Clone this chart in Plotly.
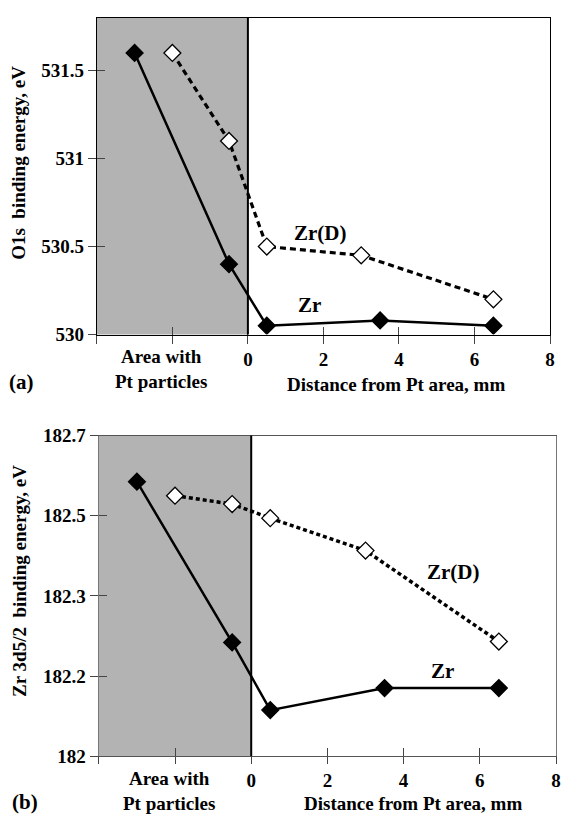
import plotly.graph_objects as go

# ---------------- data ----------------
pt_area = [-4, 0]

x_zr_a = [-3, -0.5, 0.5, 3.5, 6.5]
y_zr_a = [531.6, 530.4, 530.05, 530.08, 530.05]
x_zrd_a = [-2, -0.5, 0.5, 3, 6.5]
y_zrd_a = [531.6, 531.1, 530.5, 530.45, 530.2]

x_zr_b = [-3, -0.5, 0.5, 3.5, 6.5]
y_zr_b = [182.685, 182.284, 182.115, 182.17, 182.17]
x_zrd_b = [-2, -0.5, 0.5, 3, 6.5]
y_zrd_b = [182.65, 182.629, 182.594, 182.513, 182.286]

x_tickvals = [-4, -2, 0, 2, 4, 6, 8]
x_ticktext = ["", "", "0", "2", "4", "6", "8"]
ya_tickvals = [530, 530.5, 531, 531.5]
ya_ticktext = ["530", "530.5", "531", "531.5"]
yb_tickvals = [182.0, 182.2, 182.4, 182.6, 182.8]
yb_ticktext = ["182", "182.2", "182.3", "182.5", "182.7"]

FONT = "Times New Roman"
W, H = 561, 825
GREY = "#b3b3b3"

def bold(labels):
    return [f"<b>{t}</b>" if t else "" for t in labels]

fig = go.Figure()

def add_series(xs, ys, xa, ya, filled, dash, width):
    fig.add_trace(go.Scatter(
        x=xs, y=ys, xaxis=xa, yaxis=ya, mode="lines+markers",
        line=dict(color="black", width=width, dash=dash),
        marker=dict(symbol="diamond", size=13,
                    color="black" if filled else "white",
                    line=dict(color="black", width=1.3)),
        showlegend=False, hoverinfo="skip"))

add_series(x_zr_a, y_zr_a, "x", "y", True, "solid", 2.5)
add_series(x_zrd_a, y_zrd_a, "x", "y", False, "6px,4px", 3.2)
add_series(x_zr_b, y_zr_b, "x2", "y2", True, "solid", 2.5)
add_series(x_zrd_b, y_zrd_b, "x2", "y2", False, "4px,3px", 3.5)

# invisible traces carrying the overlay axes (inside half of the crossing ticks)
fig.add_trace(go.Scatter(x=x_zr_a, y=y_zr_a, xaxis="x3", yaxis="y3", mode="none",
                         showlegend=False, hoverinfo="skip"))
fig.add_trace(go.Scatter(x=x_zr_b, y=y_zr_b, xaxis="x4", yaxis="y4", mode="none",
                         showlegend=False, hoverinfo="skip"))

tickfont = dict(family=FONT, size=19, color="black")

dom_xa = [97.7 / W, 555 / W]
dom_ya = [1 - 333 / H, 1 - 8 / H]
dom_xb = [99.7 / W, 1.0]
dom_yb = [1 - 765.7 / H, 1 - 436.7 / H]

common_x = dict(range=[-4, 8], tickvals=x_tickvals, ticktext=bold(x_ticktext),
                tickfont=tickfont, showgrid=False, zeroline=False)

fig.update_layout(
    width=W, height=H, margin=dict(l=0, r=0, t=0, b=0),
    font=dict(family=FONT, size=19, color="black"),
    paper_bgcolor="white", plot_bgcolor="white",
    xaxis=dict(domain=dom_xa, anchor="y", ticks="outside", ticklen=8, tickwidth=1.3,
               showline=True, linecolor="black", linewidth=1.3, mirror=True, **common_x),
    yaxis=dict(domain=dom_ya, anchor="x", range=[530, 531.8], tickvals=ya_tickvals,
               ticktext=bold(ya_ticktext), tickfont=tickfont, ticks="outside", ticklen=8,
               tickwidth=1.3, showline=True, linecolor="black", linewidth=1.3,
               mirror=True, showgrid=False, zeroline=False),
    xaxis3=dict(domain=dom_xa, anchor="y3", overlaying="x", ticks="inside", ticklen=8,
                tickwidth=1.3, showticklabels=False, showline=False,
                range=[-4, 8], tickvals=x_tickvals, showgrid=False, zeroline=False),
    yaxis3=dict(domain=dom_ya, anchor="x3", overlaying="y", ticks="inside", ticklen=8,
                tickwidth=1.3, showticklabels=False, showline=False,
                range=[530, 531.8], tickvals=ya_tickvals, showgrid=False, zeroline=False),
    xaxis2=dict(domain=dom_xb, anchor="y2", ticks="outside", ticklen=7, tickwidth=1.3,
                showline=True, linecolor="#555555", linewidth=1.3, mirror=True, **common_x),
    yaxis2=dict(domain=dom_yb, anchor="x2", range=[182, 182.8], tickvals=yb_tickvals,
                ticktext=bold(yb_ticktext), tickfont=tickfont, ticks="outside", ticklen=8,
                tickwidth=1.3, showline=True, linecolor="#777777", linewidth=1.3,
                mirror=True, showgrid=False, zeroline=False),
    xaxis4=dict(domain=dom_xb, anchor="y4", overlaying="x2", ticks="inside", ticklen=8,
                tickwidth=1.3, showticklabels=False, showline=False,
                range=[-4, 8], tickvals=x_tickvals, showgrid=False, zeroline=False),
    yaxis4=dict(domain=dom_yb, anchor="x4", overlaying="y2", ticks="inside", ticklen=8,
                tickwidth=1.3, showticklabels=False, showline=False,
                range=[182, 182.8], tickvals=yb_tickvals, showgrid=False, zeroline=False),
)

# shaded Pt area and the x=0 boundary
for xr, yr in (("x", "y"), ("x2", "y2")):
    fig.add_shape(type="rect", xref=xr, yref=f"{yr} domain", x0=pt_area[0], x1=pt_area[1],
                  y0=0, y1=1, fillcolor=GREY, line=dict(width=0), layer="below")
    fig.add_shape(type="line", xref=xr, yref=f"{yr} domain", x0=pt_area[1], x1=pt_area[1],
                  y0=0, y1=1, line=dict(color="black", width=2))

def ann(text, x, y, xref="paper", yref="paper", size=19, angle=0):
    fig.add_annotation(text=f"<b>{text}</b>", x=x, y=y, xref=xref, yref=yref,
                       showarrow=False, textangle=angle, xanchor="center",
                       yanchor="middle", font=dict(family=FONT, size=size, color="black"))

# series labels
ann("Zr(D)", 1.92, 530.575, "x", "y", 21)
ann("Zr", 1.63, 530.17, "x", "y", 21)
ann("Zr(D)", 5.3, 182.459, "x2", "y2", 21)
ann("Zr", 5.02, 182.213, "x2", "y2", 21)

# axis titles and labels
ann("O1s  binding energy, eV", 18 / W, 1 - 157 / H, angle=-90)
ann("Zr 3d5/2  binding energy, eV", 19 / W, 1 - 586 / H, angle=-90)
ann("Distance from Pt area, mm", 400 / W, 1 - 384 / H)
ann("Distance from Pt area, mm", 416.7 / W, 1 - 814 / H)
ann("Area with<br>Pt particles", -2.3, 1 - 368.5 / H, "x", "paper")
ann("Area with<br>Pt particles", -2.17, 1 - 801.5 / H, "x2", "paper")
ann("(a)", 21.7 / W, 1 - 382 / H, size=21)
ann("(b)", 25 / W, 1 - 813 / H, size=21)

fig.write_html("out.html")
